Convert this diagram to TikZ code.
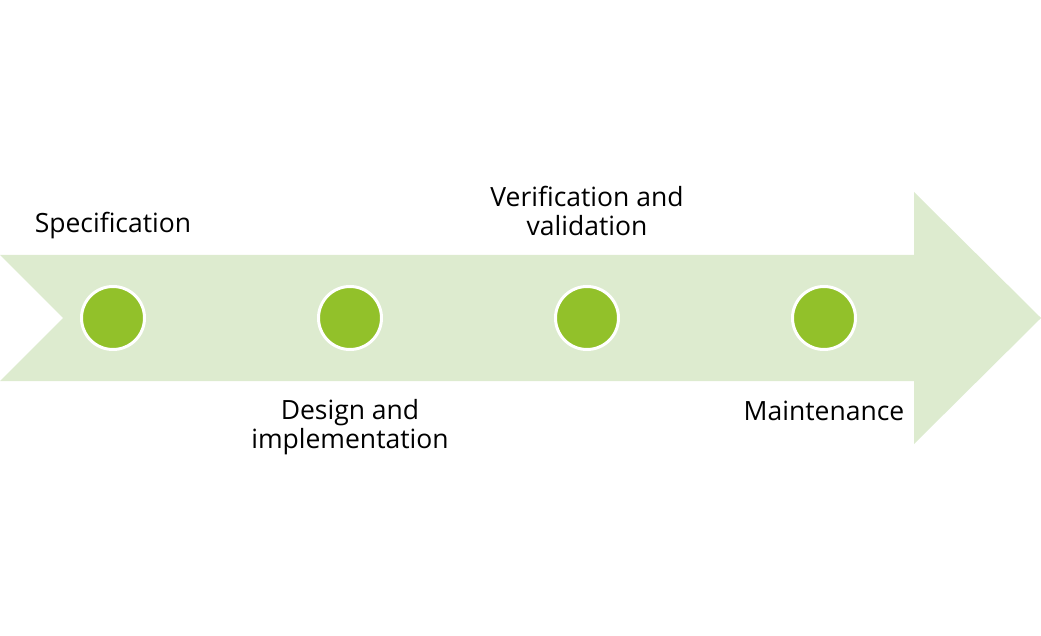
\documentclass[tikz,border=0pt]{standalone}
\usepackage{fontspec}
\setmainfont{Open Sans}
\definecolor{arrowfill}{RGB}{221,235,207}
\definecolor{dotfill}{RGB}{146,193,42}
\begin{document}
\begin{tikzpicture}[x=1pt,y=-1pt,
  dot/.style={circle,fill=dotfill,draw=white,line width=3pt,minimum size=63pt,inner sep=0pt},
  lbl/.style={align=center,font=\fontsize{26.5pt}{29pt}\selectfont,inner sep=0pt}]
\useasboundingbox (0,0) rectangle (1041,636);
\fill[arrowfill] (0,255) -- (914,255) -- (914,192) -- (1041,318) -- (914,444) -- (914,381) -- (0,381) -- (63,318) -- cycle;
\node[dot] (d1) at (113,318) {};
\node[dot] (d2) at (350,318) {};
\node[dot] (d3) at (587,318) {};
\node[dot] (d4) at (824,318) {};
\node[lbl] (t1) at (113,226) {Specification};
\node[lbl] (t2) at (350,427) {Design and\\implementation};
\node[lbl] (t3) at (587,211) {Verification and\\validation};
\node[lbl] (t4) at (824,411) {Maintenance};
\end{tikzpicture}
\end{document}
